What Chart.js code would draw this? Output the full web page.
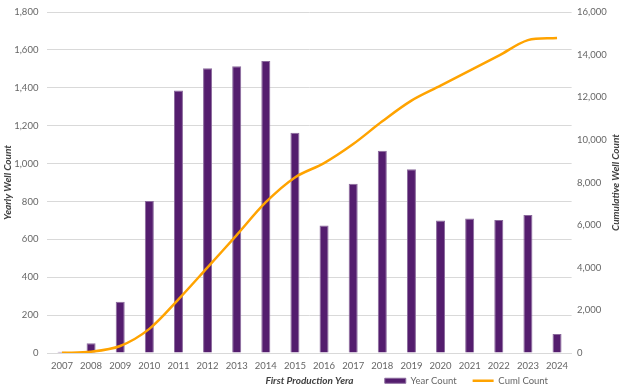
<!DOCTYPE html>
<html>
<head>
<meta charset="utf-8">
<script src="https://cdn.jsdelivr.net/npm/chart.js@4.4.1/dist/chart.umd.min.js"></script>
<style>
  html, body { margin: 0; padding: 0; background: #ffffff; }
  #wrap { width: 625px; height: 389px; position: relative; }
</style>
</head>
<body>
<div id="wrap"><canvas id="c" width="625" height="389"></canvas></div>
<script>
const categories = ['2007','2008','2009','2010','2011','2012','2013','2014','2015','2016','2017','2018','2019','2020','2021','2022','2023','2024'];
const yearCount = [7, 52, 270, 803, 1385, 1503, 1513, 1542, 1163, 673, 893, 1067, 970, 700, 710, 702, 728, 100];
const cumlCount = [7, 59, 329, 1132, 2517, 4020, 5533, 7075, 8238, 8911, 9804, 10871, 11841, 12541, 13251, 13953, 14681, 14781];
const leftTicks = [0, 200, 400, 600, 800, 1000, 1200, 1400, 1600, 1800];
const rightTicks = [0, 2000, 4000, 6000, 8000, 10000, 12000, 14000, 16000];

const FONT = 'Lato, "Open Sans", sans-serif';
const FS = 9.5;
const TFS = 10;
const TICK_COLOR = '#666666';
const TITLE_COLOR = '#404040';
const GRID = '#d9d9d9';
const BAR_FILL = '#541d6e';
const BAR_EDGE = '#8a6a9c';
const LINE_COLOR = '#ffa300';

const layoutPlugin = {
  id: 'customLayout',
  afterLayout(chart) {
    const lg = chart.legend;
    if (lg) {
      lg.left = 300; lg.right = 564;
      lg.top = 360; lg.bottom = 389;
      lg.width = lg.right - lg.left; lg.height = lg.bottom - lg.top;
    }
  },
  afterDraw(chart) {
    const s = chart.scales.y1;
    const ctx = chart.ctx;
    ctx.save();
    ctx.font = 'italic bold ' + TFS + 'px ' + FONT;
    ctx.fillStyle = TITLE_COLOR;
    ctx.textAlign = 'center';
    ctx.textBaseline = 'middle';
    ctx.translate(s.right - 6, (chart.chartArea.top + chart.chartArea.bottom) / 2);
    ctx.rotate(-Math.PI / 2);
    ctx.fillText('Cumulative Well Count', 0, 0);
    ctx.restore();
  }
};

new Chart(document.getElementById('c'), {
  type: 'bar',
  data: {
    labels: categories,
    datasets: [
      {
        type: 'bar',
        label: 'Year Count',
        data: yearCount,
        backgroundColor: BAR_FILL,
        borderColor: BAR_EDGE,
        borderWidth: 1,
        barPercentage: 0.31,
        categoryPercentage: 1,
        yAxisID: 'y',
        order: 2
      },
      {
        type: 'line',
        label: 'Cuml Count',
        data: cumlCount,
        borderColor: LINE_COLOR,
        backgroundColor: LINE_COLOR,
        borderWidth: 2.5,
        pointRadius: 0,
        pointStyle: 'line',
        tension: 0.33,
        yAxisID: 'y1',
        order: 1
      }
    ]
  },
  options: {
    responsive: false,
    animation: false,
    layout: { padding: { top: 12, left: 2, right: 3, bottom: 0 } },
    plugins: {
      tooltip: { enabled: false },
      legend: {
        position: 'bottom',
        align: 'end',
        maxHeight: 1,
        labels: {
          font: { family: FONT, size: FS },
          color: TICK_COLOR,
          usePointStyle: true,
          pointStyleWidth: 21,
          boxHeight: 5,
          padding: 16,
          sort: (a, b) => a.datasetIndex - b.datasetIndex,
          generateLabels(chart) {
            const items = Chart.defaults.plugins.legend.labels.generateLabels(chart);
            items.forEach((it) => {
              if (it.text === 'Year Count') {
                it.pointStyle = 'rect';
                it.fillStyle = BAR_FILL; it.strokeStyle = BAR_EDGE; it.lineWidth = 1;
              } else {
                it.pointStyle = 'line';
                it.strokeStyle = LINE_COLOR; it.lineWidth = 2.5;
              }
            });
            return items;
          }
        }
      }
    },
    scales: {
      x: {
        grid: { display: false, drawTicks: false },
        border: { display: true, color: GRID, width: 1 },
        ticks: { font: { family: FONT, size: FS }, color: TICK_COLOR, padding: 7, maxRotation: 0 },
        afterFit(scale) { scale.height = 35; scale.paddingLeft = 0; scale.paddingRight = 0; },
        title: {
          display: true,
          text: 'First Production Yera',
          font: { family: FONT, size: TFS, style: 'italic', weight: 'bold' },
          color: TITLE_COLOR,
          padding: { top: 0, bottom: 1 }
        }
      },
      y: {
        position: 'left',
        min: 0, max: 1800,
        afterBuildTicks(scale) { scale.ticks = leftTicks.map(v => ({ value: v })); },
        afterFit(scale) { scale.width = 45.4; scale.paddingTop = 0; scale.paddingBottom = 0; },
        grid: { color: GRID, lineWidth: 1, drawTicks: false },
        border: { display: false },
        ticks: { font: { family: FONT, size: FS }, color: TICK_COLOR, padding: 9 },
        title: {
          display: true,
          text: 'Yearly Well Count',
          font: { family: FONT, size: TFS, style: 'italic', weight: 'bold' },
          color: TITLE_COLOR,
          padding: { top: 0, bottom: 0 }
        }
      },
      y1: {
        position: 'right',
        min: 0, max: 16000,
        afterBuildTicks(scale) { scale.ticks = rightTicks.map(v => ({ value: v })); },
        afterFit(scale) { scale.width = 50.4; scale.paddingTop = 0; scale.paddingBottom = 0; },
        grid: { display: false, drawTicks: false },
        border: { display: false },
        ticks: { font: { family: FONT, size: FS }, color: TICK_COLOR, padding: 5.5 },
        title: {
          display: true,
          text: 'Cumulative Well Count',
          font: { family: FONT, size: TFS, style: 'italic', weight: 'bold' },
          color: 'rgba(0,0,0,0)',
          padding: { top: 0, bottom: 0 }
        }
      }
    }
  },
  plugins: [layoutPlugin]
});
</script>
</body>
</html>
